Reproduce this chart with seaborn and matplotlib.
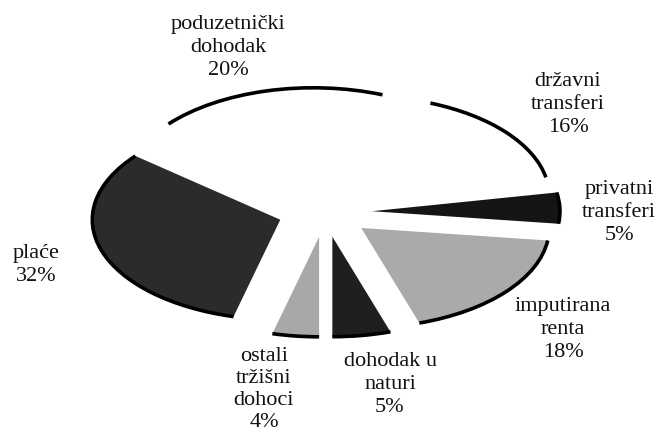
import matplotlib
matplotlib.use("Agg")
import matplotlib.pyplot as plt
from matplotlib.patches import Arc
import seaborn as sns

# ---- data ----
categories = ["plaće", "poduzetnički\ndohodak", "državni\ntransferi",
              "privatni\ntransferi", "imputirana\nrenta", "dohodak u\nnaturi",
              "ostali\ntržišni\ndohoci"]
shares = [32, 20, 16, 5, 18, 5, 4]
colors = ["#2b2b2b", "#ffffff", "#ffffff", "#141414", "#aaaaaa", "#1f1f1f", "#a8a8a8"]

sns.set_theme(style="white")
plt.rcParams["font.family"] = ["Liberation Serif", "DejaVu Serif"]

W, H = 656, 435
fig = plt.figure(figsize=(W / 100, H / 100), dpi=100)
fig.patch.set_facecolor("white")
ax = fig.add_axes([0, 0, 1, 1])

wedges, _ = ax.pie(shares, colors=colors, explode=[0.25] * len(shares),
                   startangle=255.6, counterclock=False,
                   wedgeprops=dict(linewidth=0))

# flattened (perspective-like) ellipse
cx, cy, rx, ry = 325, 213, 188, 100
ax.set_aspect("auto")
ax.set_xlim(-cx / rx, (W - cx) / rx)
ax.set_ylim((cy - H) / ry, cy / ry)
ax.axis("off")

for w in wedges:
    ax.add_patch(Arc(w.center, 2 * w.r, 2 * w.r, theta1=w.theta1, theta2=w.theta2,
                     color="black", lw=2.6))

# label layout (pixel centre x, top y, line spacing)
layout = [(36, 244, 1.28), (228, 15, 1.28), (568, 72, 1.28), (619, 180, 1.28),
          (563, 297, 1.28), (390, 352, 1.28), (264, 347, 1.22)]
for cat, val, (lx, ly, ls) in zip(categories, shares, layout):
    fig.text(lx / W, 1 - ly / H, f"{cat}\n{val}%", ha="center", va="top",
             multialignment="center", fontsize=16, linespacing=ls, color="#111111")

fig.savefig("out.png", dpi=100, facecolor="white")
